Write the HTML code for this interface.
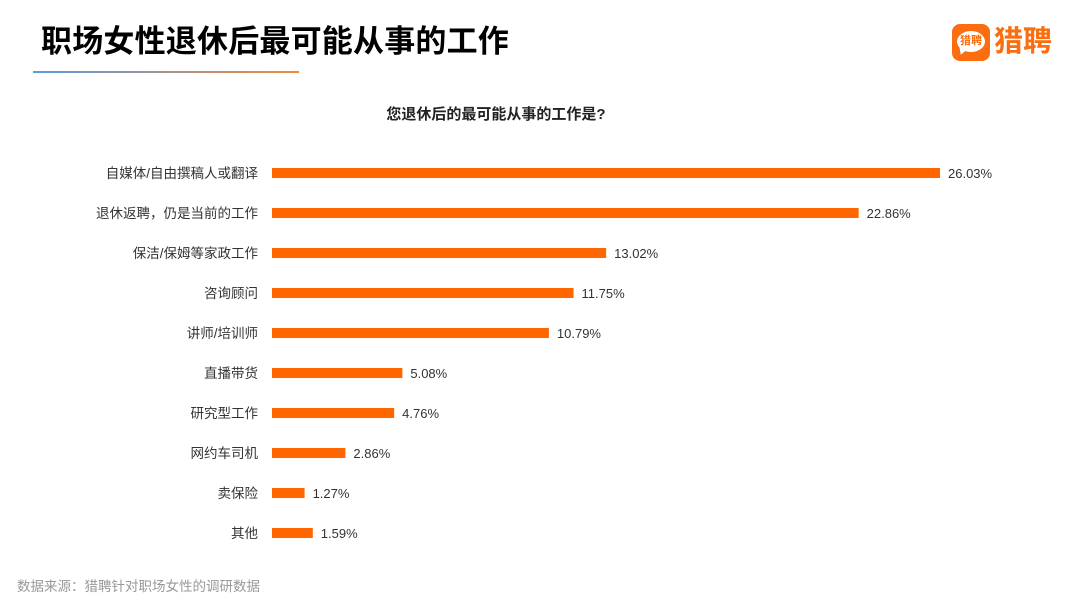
<!DOCTYPE html>
<html><head><meta charset="utf-8"><style>
html,body{margin:0;padding:0;background:#fff;}
body{width:1080px;height:608px;position:relative;overflow:hidden;font-family:"Liberation Sans","Noto Sans CJK SC",sans-serif;}
.abs{position:absolute;}
</style></head><body>
<div class="abs" style="left:41px;top:22px;font-size:31px;font-weight:bold;color:#000;letter-spacing:0.2px;line-height:40px;">职场女性退休后最可能从事的工作</div>
<div class="abs" style="left:33px;top:71px;width:266px;height:2px;background:linear-gradient(90deg,#5b9be0,#f08a3c);"></div>
<div class="abs" style="left:952px;top:24px;width:38px;height:37px;background:#fb6d0e;border-radius:8px;">
  <div style="position:absolute;left:5px;top:7px;width:28px;height:21px;background:#fff;border-radius:50%;"></div>
  <div style="position:absolute;left:6px;top:24px;width:0;height:0;border-left:4px solid transparent;border-right:4px solid transparent;border-top:7px solid #fff;transform:rotate(20deg);"></div>
  <div style="position:absolute;left:5px;top:10px;width:28px;text-align:center;font-size:11px;font-weight:bold;color:#fb6d0e;line-height:15px;">猎聘</div>
</div>
<div class="abs" style="left:994px;top:22px;font-size:29px;font-weight:bold;color:#fb6d0e;line-height:40px;">猎聘</div>
<div class="abs" style="left:0;width:992px;text-align:center;top:105px;font-size:15px;font-weight:bold;color:#222;line-height:20px;">您退休后的最可能从事的工作是?</div>
<svg class="abs" style="left:0;top:0" width="1080" height="608" id="chart"></svg>
<div class="abs" style="left:17px;top:578px;font-size:13.5px;color:#999;line-height:18px;">数据来源：猎聘针对职场女性的调研数据</div>
<script>
const categories=["自媒体/自由撰稿人或翻译","退休返聘，仍是当前的工作","保洁/保姆等家政工作","咨询顾问","讲师/培训师","直播带货","研究型工作","网约车司机","卖保险","其他"];
const values=[26.03,22.86,13.02,11.75,10.79,5.08,4.76,2.86,1.27,1.59];
const valueLabels=["26.03%","22.86%","13.02%","11.75%","10.79%","5.08%","4.76%","2.86%","1.27%","1.59%"];
const x0=272, pxPer=(940-272)/26.03;
const xScale=v=>x0+v*pxPer;
const yScale=i=>173+i*40;
const ns="http://www.w3.org/2000/svg";
const svg=document.getElementById('chart');
categories.forEach((c,i)=>{
  const y=yScale(i);
  const r=document.createElementNS(ns,'rect');
  r.setAttribute('x',x0);r.setAttribute('y',y-5);
  r.setAttribute('width',xScale(values[i])-x0);r.setAttribute('height',10);
  r.setAttribute('fill','#ff6600');
  
  
  svg.appendChild(r);
  const t=document.createElementNS(ns,'text');
  t.setAttribute('x',258);t.setAttribute('y',y+5);t.setAttribute('text-anchor','end');
  t.setAttribute('font-size','13.5');t.setAttribute('fill','#333');
  t.setAttribute('font-family','"Liberation Sans","Noto Sans CJK SC",sans-serif');
  t.textContent=c;
  
  
  svg.appendChild(t);
  const v=document.createElementNS(ns,'text');
  v.setAttribute('x',xScale(values[i])+8);v.setAttribute('y',y+5);
  v.setAttribute('font-size','13');v.setAttribute('fill','#333');
  v.setAttribute('font-family','"Liberation Sans",sans-serif');
  v.textContent=valueLabels[i];
  
  
  svg.appendChild(v);
});
</script>
</body></html>
